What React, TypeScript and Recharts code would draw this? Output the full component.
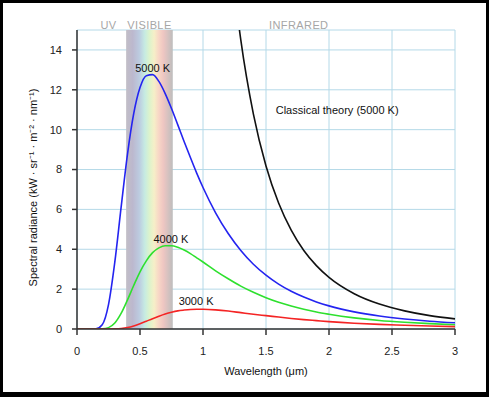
import {
  LineChart,
  Line,
  XAxis,
  YAxis,
  CartesianGrid,
  ReferenceArea,
  ReferenceDot,
} from 'recharts'

// wavelength in µm
const wavelengths = [
  0, 0.05, 0.1, 0.15, 0.2, 0.25, 0.3, 0.35, 0.4, 0.45,
  0.5, 0.55, 0.6, 0.65, 0.7, 0.75, 0.8, 0.85, 0.9, 0.95,
  1.0, 1.1, 1.2, 1.3, 1.4, 1.5, 1.6, 1.7, 1.8, 1.9,
  2.0, 2.2, 2.4, 2.6, 2.8, 3.0,
]

// spectral radiance, kW · sr⁻¹ · m⁻² · nm⁻¹
const radiance5000 = [
  0, 0, 0, 0.007, 0.21, 1.22, 3.35, 6.1, 8.74, 10.8,
  12.11, 12.71, 12.76, 12.42, 11.81, 11.06, 10.24, 9.41, 8.6, 7.82,
  7.1, 5.83, 4.79, 3.94, 3.25, 2.7, 2.25, 1.89, 1.6, 1.36,
  1.16, 0.86, 0.65, 0.5, 0.39, 0.31,
]
const radiance4000 = [
  0, 0, 0, 0, 0.006, 0.069, 0.3, 0.78, 1.45, 2.18,
  2.87, 3.42, 3.83, 4.07, 4.18, 4.18, 4.1, 3.96, 3.78, 3.57,
  3.36, 2.92, 2.52, 2.15, 1.84, 1.57, 1.34, 1.15, 0.99, 0.85,
  0.74, 0.56, 0.43, 0.34, 0.27, 0.21,
]
const radiance3000 = [
  0, 0, 0, 0, 0, 0.001, 0.006, 0.025, 0.072, 0.152,
  0.26, 0.39, 0.52, 0.64, 0.75, 0.84, 0.91, 0.95, 0.98, 0.99,
  0.99, 0.96, 0.9, 0.82, 0.74, 0.67, 0.6, 0.53, 0.47, 0.42,
  0.37, 0.29, 0.23, 0.19, 0.15, 0.12,
]
const classical5000 = [
  null, null, null, null, null, null, null, null, null, null,
  null, null, null, null, null, null, null, null, null, null,
  41.4, 28.28, 19.97, 14.5, 10.78, 8.18, 6.32, 4.96, 3.94, 3.18,
  2.59, 1.77, 1.25, 0.91, 0.67, 0.51,
]

const xTicks = [0, 0.5, 1, 1.5, 2, 2.5, 3]
const yTicks = [0, 2, 4, 6, 8, 10, 12, 14]
const visibleBand = [0.39, 0.76]

const curveLabels = [
  { text: '5000 K', wl: 0.6, value: 13.08 },
  { text: '4000 K', wl: 0.745, value: 4.53 },
  { text: '3000 K', wl: 0.945, value: 1.38 },
  { text: 'Classical theory (5000 K)', wl: 2.065, value: 10.98 },
]

const data = wavelengths.map((wl, i) => ({
  wl,
  t5000: radiance5000[i],
  t4000: radiance4000[i],
  t3000: radiance3000[i],
  classical: classical5000[i],
}))

const font = '"Liberation Sans", Arial, sans-serif'
const axisColor = '#333'
const regionLabel = { fill: '#a6a6a6', fontSize: 11, letterSpacing: 0.4 }

export default function App() {
  return (
    <div
      style={{
        position: 'absolute',
        left: 0,
        top: 0,
        width: 489,
        height: 397,
        boxSizing: 'border-box',
        borderStyle: 'solid',
        borderColor: '#000',
        borderWidth: '3px 3px 5px 3px',
        background: '#fff',
        fontFamily: font,
      }}
    >
      <LineChart
        width={483}
        height={389}
        data={data}
        margin={{ top: 27, right: 31, left: 0, bottom: 33 }}
        style={{ fontFamily: font }}
      >
        <defs>
          <linearGradient id="visibleGradient" x1="0" y1="0" x2="1" y2="0">
            <stop offset="0%" stopColor="#c2bec6" />
            <stop offset="14%" stopColor="#bcb8ce" />
            <stop offset="28%" stopColor="#bccbe0" />
            <stop offset="40%" stopColor="#c6ebe2" />
            <stop offset="50%" stopColor="#dcf3cc" />
            <stop offset="60%" stopColor="#f6efc8" />
            <stop offset="70%" stopColor="#f8d6c6" />
            <stop offset="80%" stopColor="#eec6c2" />
            <stop offset="100%" stopColor="#bdbdbd" />
          </linearGradient>
        </defs>
        <CartesianGrid stroke="#b4d9e8" strokeWidth={1} />
        <XAxis
          type="number"
          dataKey="wl"
          domain={[0, 3]}
          ticks={xTicks}
          interval={0}
          height={30}
          stroke={axisColor}
          strokeWidth={1.5}
          tickSize={6}
          tickMargin={12}
          tick={{ fill: '#222', fontSize: 11 }}
          label={{
            value: 'Wavelength (μm)',
            position: 'bottom',
            offset: 8,
            fill: '#111',
            fontSize: 11,
          }}
        />
        <YAxis
          type="number"
          domain={[0, 15]}
          allowDataOverflow
          ticks={yTicks}
          interval={0}
          width={74}
          stroke={axisColor}
          strokeWidth={1.5}
          tickSize={5}
          tickMargin={10}
          tick={{ fill: '#222', fontSize: 11 }}
          label={{
            value: 'Spectral radiance (kW · sr⁻¹ · m⁻² · nm⁻¹)',
            angle: -90,
            position: 'insideLeft',
            offset: 30,
            dy: 8,
            fill: '#111',
            fontSize: 11,
            style: { textAnchor: 'middle' },
          }}
        />
        <ReferenceArea
          x1={visibleBand[0]}
          x2={visibleBand[1]}
          fill="url(#visibleGradient)"
          fillOpacity={1}
          stroke="none"
          label={{ value: 'VISIBLE', position: 'top', offset: 1, ...regionLabel }}
        />
        <ReferenceArea
          x1={0.2}
          x2={0.3}
          fillOpacity={0}
          stroke="none"
          label={{ value: 'UV', position: 'top', offset: 1, ...regionLabel }}
        />
        <ReferenceArea
          x1={1.51}
          x2={2.01}
          fillOpacity={0}
          stroke="none"
          label={{ value: 'INFRARED', position: 'top', offset: 1, ...regionLabel }}
        />
        <Line
          type="monotone"
          dataKey="classical"
          stroke="#111"
          strokeWidth={1.6}
          dot={false}
          isAnimationActive={false}
        />
        <Line
          type="monotone"
          dataKey="t5000"
          stroke="#2424f0"
          strokeWidth={1.6}
          dot={false}
          isAnimationActive={false}
        />
        <Line
          type="monotone"
          dataKey="t4000"
          stroke="#2ee02e"
          strokeWidth={1.6}
          dot={false}
          isAnimationActive={false}
        />
        <Line
          type="monotone"
          dataKey="t3000"
          stroke="#f42424"
          strokeWidth={1.6}
          dot={false}
          isAnimationActive={false}
        />
        {curveLabels.map((c) => (
          <ReferenceDot
            key={c.text}
            x={c.wl}
            y={c.value}
            r={0}
            fill="none"
            stroke="none"
            label={{ value: c.text, position: 'center', fill: '#111', fontSize: 11 }}
          />
        ))}
      </LineChart>
    </div>
  )
}
